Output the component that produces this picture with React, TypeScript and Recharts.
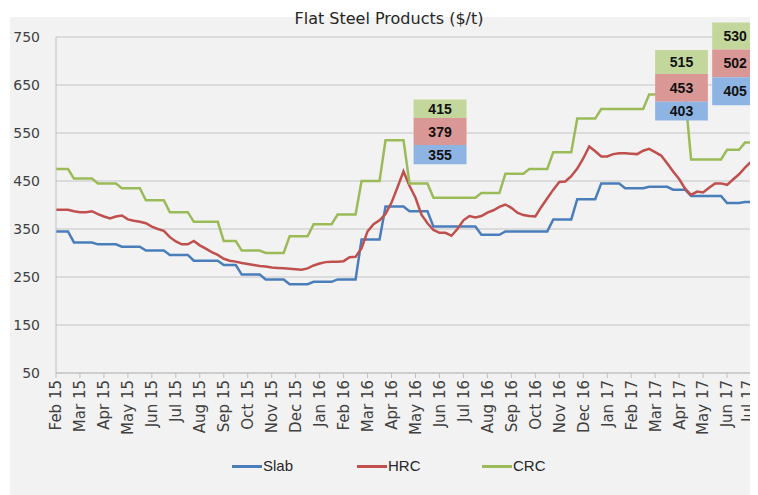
import { LineChart, Line, XAxis, YAxis, CartesianGrid, ReferenceArea } from 'recharts';

// month tick labels (one tick per month start)
const monthLabels = [
  'Feb 15', 'Mar 15', 'Apr 15', 'May 15', 'Jun 15', 'Jul 15', 'Aug 15', 'Sep 15', 'Oct 15', 'Nov 15', 'Dec 15',
  'Jan 16', 'Feb 16', 'Mar 16', 'Apr 16', 'May 16', 'Jun 16', 'Jul 16', 'Aug 16', 'Sep 16', 'Oct 16', 'Nov 16', 'Dec 16',
  'Jan 17', 'Feb 17', 'Mar 17', 'Apr 17', 'May 17', 'Jun 17', 'Jul 17',
];

// weekly prices, $/t (4 readings per month)
const slab = [
  345, 345, 345, 322, 322, 322, 322, 318, 318, 318,
  318, 313, 313, 313, 313, 305, 305, 305, 305, 296,
  296, 296, 296, 284, 284, 284, 284, 284, 275, 275,
  275, 255, 255, 255, 255, 245, 245, 245, 245, 235,
  235, 235, 235, 240, 240, 240, 240, 245, 245, 245,
  245, 328, 328, 328, 328, 397, 397, 397, 397, 387,
  387, 387, 387, 355, 355, 355, 355, 355, 355, 355,
  355, 338, 338, 338, 338, 345, 345, 345, 345, 345,
  345, 345, 345, 370, 370, 370, 370, 412, 412, 412,
  412, 445, 445, 445, 445, 435, 435, 435, 435, 438,
  438, 438, 438, 432, 432, 432, 419, 419, 419, 419,
  419, 419, 404, 404, 404, 406, 406, 406,
];

const hrc = [
  390, 390, 390, 387, 385, 385, 387, 381, 376, 372,
  376, 378, 370, 367, 365, 362, 355, 350, 346, 333,
  324, 318, 318, 325, 316, 309, 302, 296, 288, 284,
  282, 279, 277, 275, 273, 272, 270, 269, 268, 267,
  266, 265, 268, 274, 278, 281, 282, 282, 283, 291,
  292, 310, 345, 360, 368, 381, 405, 437, 470, 440,
  415, 380, 362, 348, 342, 342, 336, 350, 368, 377,
  374, 377, 384, 389, 396, 401, 394, 384, 379, 377,
  376, 396, 414, 432, 448, 449, 460, 476, 497, 522,
  512, 501, 501, 506, 508, 508, 507, 506, 513, 517,
  510, 503, 487, 470, 454, 434, 421, 428, 426, 436,
  445, 445, 442, 453, 464, 478, 490, 501,
];

const crc = [
  475, 475, 475, 455, 455, 455, 455, 445, 445, 445,
  445, 435, 435, 435, 435, 410, 410, 410, 410, 385,
  385, 385, 385, 365, 365, 365, 365, 365, 325, 325,
  325, 305, 305, 305, 305, 300, 300, 300, 300, 335,
  335, 335, 335, 360, 360, 360, 360, 380, 380, 380,
  380, 450, 450, 450, 450, 535, 535, 535, 535, 445,
  445, 445, 445, 415, 415, 415, 415, 415, 415, 415,
  415, 425, 425, 425, 425, 465, 465, 465, 465, 475,
  475, 475, 475, 510, 510, 510, 510, 580, 580, 580,
  580, 600, 600, 600, 600, 600, 600, 600, 600, 630,
  630, 630, 630, 630, 630, 630, 495, 495, 495, 495,
  495, 495, 515, 515, 515, 530, 530, 530,
];

const yTicks = [50, 150, 250, 350, 450, 550, 650, 750];

// callout boxes: CRC / HRC / Slab readings
const calloutCrc = ['415', '515', '530'];
const calloutHrc = ['379', '453', '502'];
const calloutSlab = ['355', '403', '405'];

const COLORS = { slab: '#4a7ebb', hrc: '#c0504d', crc: '#9bbb59' };
const BOX = { crc: '#c3d69b', hrc: '#d99795', slab: '#8eb4e3' };
const FONT = '"DejaVu Sans", Verdana, sans-serif';

// box placement in chart units (month index / $ per t)
const boxSpots = [
  { x1: 14.92, x2: 17.13, y: [620, 581, 525, 485] },
  { x1: 25.0, x2: 27.2, y: [723, 673, 615, 576] },
  { x1: 27.38, x2: 29.3, y: [780, 724, 666, 608] },
];

const data = slab.map((v, i) => ({ m: i / 4, slab: v, hrc: hrc[i], crc: crc[i] }));

const MonthTick = (props: any) => {
  const { x, y, payload } = props;
  const last = payload.value === monthLabels.length - 1;
  return (
    <text
      x={last ? x - 3 : x}
      y={y}
      transform={`rotate(-90 ${last ? x - 3 : x} ${y})`}
      textAnchor="end"
      dy="0.36em"
      fontSize={15}
      fontFamily={FONT}
      fill="#404040"
    >
      {monthLabels[payload.value]}
    </text>
  );
};

const legendItems = [
  { name: 'Slab', color: COLORS.slab },
  { name: 'HRC', color: COLORS.hrc },
  { name: 'CRC', color: COLORS.crc },
];

export default function App() {
  const boxLabel = (value: string) => ({
    value,
    position: 'center' as const,
    fill: '#111',
    fontSize: 14,
    fontWeight: 'bold',
    fontFamily: '"Liberation Sans", Arial, sans-serif',
  });

  return (
    <div style={{ position: 'relative', width: 750, height: 487, fontFamily: FONT }}>
      <div style={{ position: 'absolute', left: 2, top: 9, width: 748, height: 478, background: '#f2f2f2' }} />
      <div
        style={{
          position: 'absolute', left: 231, top: 1, width: 300, textAlign: 'center',
          fontSize: 16, lineHeight: '20px', color: '#262626',
        }}
      >
        Flat Steel Products ($/t)
      </div>

      <div style={{ position: 'absolute', left: 0, top: 0 }}>
        <LineChart width={758} height={487} data={data} margin={{ top: 29, right: 9, left: 0, bottom: 0 }}>
          <CartesianGrid vertical={false} stroke="#c4c4c4" />
          <XAxis
            dataKey="m"
            type="number"
            domain={[0, 29.25]}
            ticks={monthLabels.map((_, i) => i)}
            interval={0}
            height={122}
            tickSize={5}
            tickMargin={2}
            stroke="#bfbfbf"
            tick={<MonthTick />}
          />
          <YAxis
            domain={[50, 750]}
            ticks={yTicks}
            width={48}
            tickLine={false}
            tickSize={6}
            tickMargin={10}
            stroke="#bfbfbf"
            tick={{ fill: '#404040', fontSize: 14, fontFamily: FONT }}
          />
          <Line dataKey="slab" stroke={COLORS.slab} strokeWidth={2.5} dot={false} isAnimationActive={false} />
          <Line dataKey="hrc" stroke={COLORS.hrc} strokeWidth={2.5} dot={false} isAnimationActive={false} />
          <Line dataKey="crc" stroke={COLORS.crc} strokeWidth={2.5} dot={false} isAnimationActive={false} />
          {boxSpots.map((b, i) => [
            <ReferenceArea key={`c${i}`} x1={b.x1} x2={b.x2} y1={b.y[1]} y2={b.y[0]} fill={BOX.crc} fillOpacity={1}
              stroke="none" ifOverflow="visible" zIndex={1000} label={boxLabel(calloutCrc[i])} />,
            <ReferenceArea key={`h${i}`} x1={b.x1} x2={b.x2} y1={b.y[2]} y2={b.y[1]} fill={BOX.hrc} fillOpacity={1}
              stroke="none" ifOverflow="visible" zIndex={1000} label={boxLabel(calloutHrc[i])} />,
            <ReferenceArea key={`s${i}`} x1={b.x1} x2={b.x2} y1={b.y[3]} y2={b.y[2]} fill={BOX.slab} fillOpacity={1}
              stroke="none" ifOverflow="visible" zIndex={1000} label={boxLabel(calloutSlab[i])} />,
          ])}
        </LineChart>
      </div>

      {/* legend */}
      <div style={{ position: 'absolute', left: 224, top: 449, display: 'flex' }}>
        {legendItems.map((it) => (
          <div key={it.name} style={{ width: 125, display: 'flex', alignItems: 'center', fontFamily: '"Liberation Sans", Arial, sans-serif', fontSize: 15, color: '#262626', lineHeight: '18px' }}>
            <span style={{ display: 'inline-block', width: 30, height: 3, background: it.color, marginRight: 1 }} />
            {it.name}
          </div>
        ))}
      </div>
    </div>
  );
}
